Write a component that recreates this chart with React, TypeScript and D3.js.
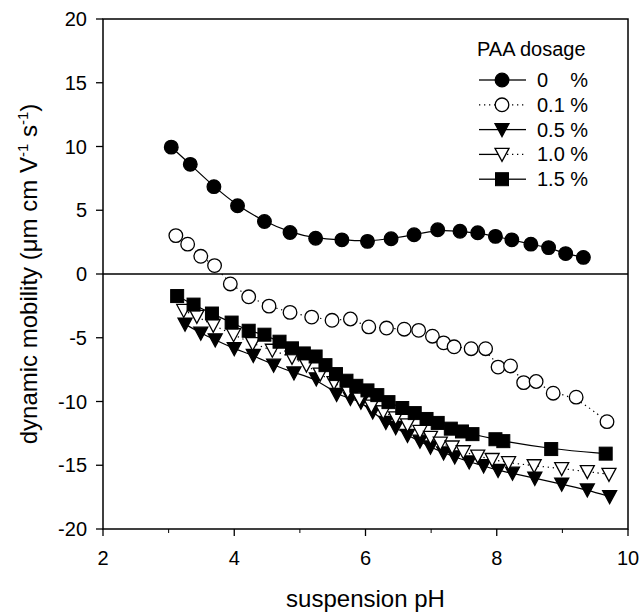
import React from "react";
import * as d3 from "d3";

// pH / mobility pairs, one list per PAA dosage
const paa0: [number, number][] = [
  [3.04, 9.95], [3.33, 8.6], [3.69, 6.85], [4.05, 5.35], [4.46, 4.12],
  [4.85, 3.26], [5.24, 2.8], [5.64, 2.68], [6.03, 2.56], [6.39, 2.77],
  [6.74, 3.08], [7.1, 3.47], [7.44, 3.35], [7.71, 3.23], [7.98, 2.95],
  [8.23, 2.68], [8.52, 2.34], [8.79, 2.07], [9.05, 1.6], [9.32, 1.3]
];
const paa01: [number, number][] = [
  [3.11, 3.01], [3.29, 2.34], [3.49, 1.39], [3.7, 0.66], [3.94, -0.78],
  [4.22, -1.79], [4.53, -2.52], [4.85, -3.01], [5.18, -3.38], [5.49, -3.63],
  [5.77, -3.53], [6.05, -4.15], [6.32, -4.24], [6.59, -4.33], [6.81, -4.42],
  [7.02, -4.88], [7.19, -5.4], [7.35, -5.71], [7.61, -5.86], [7.83, -5.86],
  [8.02, -7.3], [8.21, -7.21], [8.41, -8.52], [8.6, -8.43], [8.86, -9.35],
  [9.21, -9.66], [9.68, -11.58]
];
const paa05: [number, number][] = [
  [3.25, -3.93], [3.49, -4.64], [3.71, -5.16], [4.0, -5.86], [4.29, -6.38],
  [4.6, -7.15], [4.91, -7.76], [5.25, -8.22], [5.56, -9.44], [5.77, -9.75],
  [5.93, -10.05], [6.11, -10.82], [6.31, -11.64], [6.46, -12.04], [6.64, -12.65],
  [6.83, -13.11], [6.99, -13.57], [7.19, -14.03], [7.36, -14.34], [7.58, -14.74],
  [7.8, -15.04], [8.02, -15.41], [8.24, -15.62], [8.58, -16.02], [8.99, -16.48],
  [9.38, -16.94], [9.72, -17.46]
];
const paa10: [number, number][] = [
  [3.23, -2.86], [3.43, -3.32], [3.68, -4.02], [3.99, -4.76], [4.28, -5.46],
  [4.58, -5.98], [4.88, -6.53], [5.1, -7.15], [5.31, -7.85], [5.52, -8.52],
  [5.73, -9.2], [5.91, -9.81], [6.09, -10.36], [6.27, -10.82], [6.46, -11.28],
  [6.64, -11.83], [6.83, -12.35], [6.99, -12.81], [7.14, -13.27], [7.32, -13.57],
  [7.49, -13.94], [7.71, -14.28], [7.93, -14.55], [8.18, -14.8], [8.57, -15.04],
  [8.99, -15.26], [9.38, -15.5], [9.71, -15.71]
];
const paa15: [number, number][] = [
  [3.13, -1.73], [3.38, -2.4], [3.66, -3.1], [3.96, -3.81], [4.22, -4.45],
  [4.46, -4.76], [4.69, -5.31], [4.88, -5.83], [5.06, -6.23], [5.24, -6.47],
  [5.39, -7.15], [5.55, -7.85], [5.71, -8.37], [5.86, -8.77], [6.03, -9.13],
  [6.18, -9.5], [6.35, -10.05], [6.56, -10.51], [6.75, -10.91], [6.93, -11.37],
  [7.1, -11.68], [7.3, -12.13], [7.47, -12.35], [7.63, -12.56], [7.98, -12.96],
  [8.1, -13.11], [8.83, -13.73], [9.66, -14.09]
];

const legendLabels = ["0    %", "0.1 %", "0.5 %", "1.0 %", "1.5 %"];
const xTicks = [2, 4, 6, 8, 10];
const xMinor = [3, 5, 7, 9];
const yTicks = [-20, -15, -10, -5, 0, 5, 10, 15, 20];

const W = 642, H = 613;
const left = 103, right = 628, top = 19, bottom = 529;
const font = "'Liberation Sans', Arial, sans-serif";
const dots = "1.3 3.7";

const x = d3.scaleLinear().domain([2, 10]).range([left, right]);
const y = d3.scaleLinear().domain([-20, 20]).range([bottom, top]);

// legend line style: [left half dotted?, right half dotted?]
const series = [
  { data: paa0, marker: "circle", filled: true, dotted: false, leg: [false, false] },
  { data: paa01, marker: "circle", filled: false, dotted: true, leg: [true, true] },
  { data: paa05, marker: "tri", filled: true, dotted: false, leg: [false, false] },
  { data: paa10, marker: "tri", filled: false, dotted: true, leg: [false, true] },
  { data: paa15, marker: "square", filled: true, dotted: false, leg: [false, false] }
];

function Marker(props: { kind: string; filled: boolean; cx: number; cy: number }) {
  const fill = props.filled ? "black" : "white";
  if (props.kind === "circle") {
    return <circle cx={props.cx} cy={props.cy} r={6.8} fill={fill} stroke="black" strokeWidth={1.3} />;
  }
  if (props.kind === "square") {
    return <rect x={props.cx - 6.5} y={props.cy - 6.5} width={13} height={13} fill={fill} stroke="black" strokeWidth={1} />;
  }
  const p = `M${props.cx - 7},${props.cy - 6}L${props.cx + 7},${props.cy - 6}L${props.cx},${props.cy + 7}Z`;
  return <path d={p} fill={fill} stroke="black" strokeWidth={1.3} />;
}

export default function App() {
  const line = d3.line<[number, number]>()
    .x(d => x(d[0]))
    .y(d => y(d[1]))
    .curve(d3.curveBasis);

  const legX = 479, legY0 = 80, legStep = 24.8;

  return (
    <svg width={W} height={H} style={{ position: "absolute", left: 0, top: 0, background: "white" }}
      fontFamily={font}>
      <rect x={left} y={top} width={right - left} height={bottom - top} fill="none" stroke="black" strokeWidth={1.5} />
      <line x1={left} x2={right} y1={y(0)} y2={y(0)} stroke="black" strokeWidth={1.3} />

      {xTicks.map(t => (
        <g key={"xt" + t}>
          <line x1={x(t)} x2={x(t)} y1={bottom} y2={bottom + 7} stroke="black" strokeWidth={1.3} />
          <text x={x(t)} y={bottom + 36} fontSize={20} textAnchor="middle">{t}</text>
        </g>
      ))}
      {xMinor.map(t => (
        <line key={"xm" + t} x1={x(t)} x2={x(t)} y1={bottom} y2={bottom + 4} stroke="black" strokeWidth={1} />
      ))}
      {yTicks.map(t => (
        <g key={"yt" + t}>
          <line x1={left - 7} x2={left} y1={y(t)} y2={y(t)} stroke="black" strokeWidth={1.3} />
          <text x={left - 16} y={y(t) + 7} fontSize={20} textAnchor="end">{t}</text>
        </g>
      ))}

      {series.map((s, i) => (
        <path key={"l" + i} d={line(s.data) || ""} fill="none" stroke="black"
          strokeWidth={1.2} strokeDasharray={s.dotted ? dots : undefined} />
      ))}
      {series.map((s, i) => (
        <g key={"m" + i}>
          {s.data.map((d, j) => (
            <Marker key={j} kind={s.marker} filled={s.filled} cx={x(d[0])} cy={y(d[1])} />
          ))}
        </g>
      ))}

      {/* legend */}
      <text x={legX - 2} y={legY0 - 24} fontSize={20}>PAA dosage</text>
      {series.map((s, i) => {
        const ly = legY0 + i * legStep;
        return (
          <g key={"lg" + i}>
            <line x1={legX} x2={legX + 23} y1={ly} y2={ly} stroke="black" strokeWidth={1.3}
              strokeDasharray={s.leg[0] ? dots : undefined} />
            <line x1={legX + 23} x2={legX + 47} y1={ly} y2={ly} stroke="black" strokeWidth={1.3}
              strokeDasharray={s.leg[1] ? dots : undefined} />
            <Marker kind={s.marker} filled={s.filled} cx={legX + 23} cy={ly} />
            <text x={legX + 58} y={ly + 7} fontSize={20} style={{ whiteSpace: "pre" }}>{legendLabels[i]}</text>
          </g>
        );
      })}

      <text x={(left + right) / 2} y={607} fontSize={24} textAnchor="middle">suspension pH</text>
      <text transform={`translate(37, ${(top + bottom) / 2}) rotate(-90)`} fontSize={24} textAnchor="middle">
        dynamic mobility (μm cm V<tspan dy={-9} fontSize={15}>-1</tspan>
        <tspan dy={9}> s</tspan><tspan dy={-9} fontSize={15}>-1</tspan><tspan dy={9}>)</tspan>
      </text>
    </svg>
  );
}
